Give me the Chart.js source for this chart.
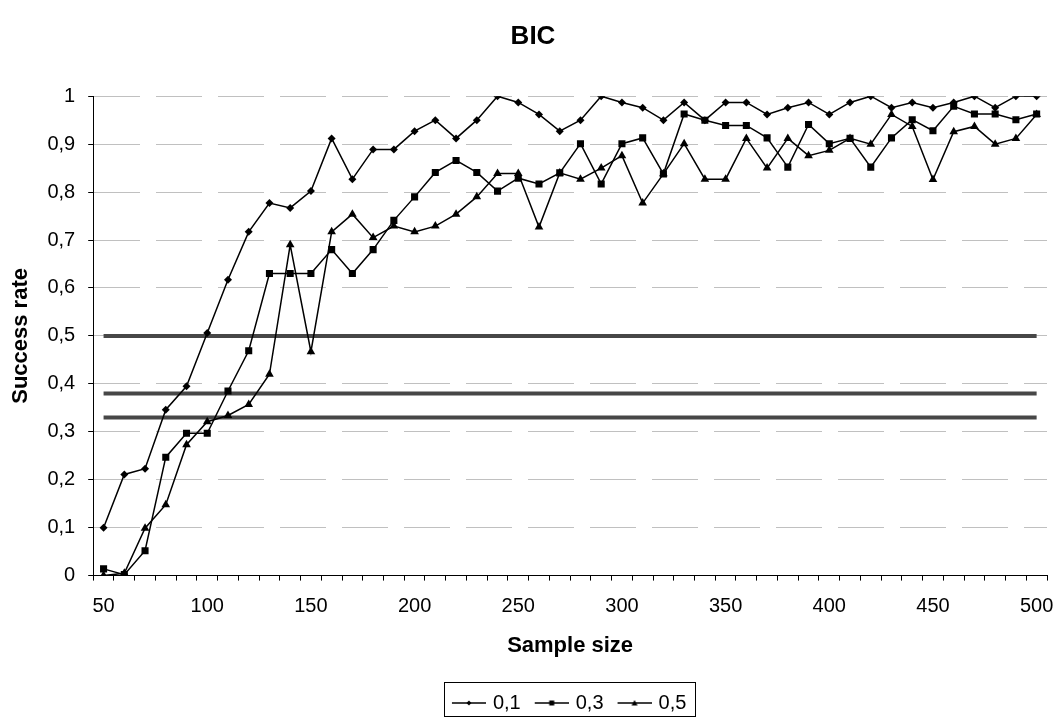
<!DOCTYPE html>
<html>
<head>
<meta charset="utf-8">
<title>BIC</title>
<script src="https://cdn.jsdelivr.net/npm/chart.js@4.4.0/dist/chart.umd.min.js"></script>
<style>
  html, body { margin: 0; padding: 0; background: #fff; }
  canvas { display: block; }
</style>
</head>
<body>
<canvas id="bicChart" width="1058" height="717"></canvas>
<script>
// Sample sizes (categories)
const sampleSizes = [50, 60, 70, 80, 90, 100, 110, 120, 130, 140, 150, 160, 170, 180, 190, 200,
  210, 220, 230, 240, 250, 260, 270, 280, 290, 300, 310, 320, 330, 340, 350, 360, 370, 380,
  390, 400, 410, 420, 430, 440, 450, 460, 470, 480, 490, 500];

// Success rate per series
const rate01 = [0.100, 0.211, 0.223, 0.346, 0.395, 0.506, 0.617, 0.717, 0.777, 0.767, 0.802, 0.912,
  0.827, 0.889, 0.889, 0.927, 0.950, 0.912, 0.950, 1.000, 0.987, 0.962, 0.927, 0.950, 1.000, 0.987,
  0.976, 0.950, 0.987, 0.950, 0.987, 0.987, 0.962, 0.976, 0.987, 0.962, 0.987, 1.000, 0.976, 0.987,
  0.976, 0.987, 1.000, 0.976, 1.000, 1.000];
const rate03 = [0.014, 0.002, 0.052, 0.247, 0.297, 0.297, 0.385, 0.469, 0.630, 0.630, 0.630, 0.680,
  0.630, 0.680, 0.741, 0.790, 0.841, 0.866, 0.841, 0.802, 0.829, 0.817, 0.840, 0.901, 0.817, 0.901,
  0.913, 0.838, 0.963, 0.950, 0.939, 0.939, 0.913, 0.852, 0.941, 0.901, 0.912, 0.852, 0.913, 0.951,
  0.928, 0.979, 0.963, 0.963, 0.951, 0.963];
const rate05 = [0.000, 0.005, 0.099, 0.148, 0.273, 0.321, 0.334, 0.357, 0.420, 0.690, 0.467, 0.717,
  0.754, 0.705, 0.729, 0.717, 0.729, 0.754, 0.790, 0.839, 0.839, 0.727, 0.840, 0.827, 0.850, 0.876,
  0.777, 0.838, 0.901, 0.827, 0.827, 0.912, 0.850, 0.912, 0.876, 0.887, 0.912, 0.900, 0.962, 0.937,
  0.826, 0.926, 0.937, 0.900, 0.912, 0.962];

// Horizontal reference levels
const refLevels = [0.5, 0.38, 0.33];

const seriesNames = ['0,1', '0,3', '0,5'];
const FONT = "'Liberation Sans', Arial, sans-serif";

// little "line + marker" sample for the legend (17px blank on the left = gap between items)
function legendSample(shape) {
  const c = document.createElement('canvas');
  c.width = 51; c.height = 14;
  const g = c.getContext('2d');
  g.strokeStyle = '#000'; g.fillStyle = '#000'; g.lineWidth = 1.5;
  g.beginPath(); g.moveTo(17, 7); g.lineTo(51, 7); g.stroke();
  g.beginPath();
  if (shape === 'diamond') {
    g.moveTo(34, 4.5); g.lineTo(36.5, 7); g.lineTo(34, 9.5); g.lineTo(31.5, 7);
  } else if (shape === 'square') {
    g.rect(31.5, 4.5, 5, 5);
  } else {
    g.moveTo(34, 4); g.lineTo(37, 9.5); g.lineTo(31, 9.5);
  }
  g.closePath(); g.fill();
  return c;
}

const legendImgs = [legendSample('diamond'), legendSample('square'), legendSample('triangle')];

function seriesSet(label, data, style, radius) {
  return {
    label: label,
    data: data,
    borderColor: '#000',
    backgroundColor: '#000',
    borderWidth: 1.5,
    pointStyle: style,
    pointRadius: radius,
    pointBorderWidth: 0,
    pointHoverRadius: radius,
    tension: 0
  };
}

const datasets = [
  seriesSet(seriesNames[0], rate01, 'rectRot', 4),
  seriesSet(seriesNames[1], rate03, 'rect', 5),
  seriesSet(seriesNames[2], rate05, 'triangle', 5)
];
refLevels.forEach(level => {
  datasets.push({
    label: 'ref ' + level,
    data: sampleSizes.map(() => level),
    borderColor: '#474747',
    borderWidth: 4,
    pointRadius: 0,
    pointHoverRadius: 0
  });
});

// border around the legend, like the original; legend nudged left a bit
const legendFrame = {
  id: 'legendFrame',
  afterLayout(chart) {
    chart.legend.left -= 8;
    chart.legend.right -= 8;
  },
  afterDraw(chart) {
    const boxes = chart.legend.legendHitBoxes;
    if (!boxes || !boxes.length) return;
    const left = Math.min(...boxes.map(b => b.left)) + 14 - 8;
    const right = Math.max(...boxes.map(b => b.left + b.width)) + 9;
    const bottom = chart.height - 1;
    const top = bottom - 34;
    const ctx = chart.ctx;
    ctx.save();
    ctx.strokeStyle = '#000';
    ctx.lineWidth = 1;
    ctx.strokeRect(Math.round(left) + 0.5, Math.round(top) + 0.5, Math.round(right - left), Math.round(bottom - top));
    ctx.restore();
  }
};

new Chart(document.getElementById('bicChart'), {
  type: 'line',
  data: { labels: sampleSizes, datasets: datasets },
  plugins: [legendFrame],
  options: {
    responsive: false,
    animation: false,
    layout: { padding: { left: 8, right: 0, top: 0, bottom: -6 } },
    plugins: {
      title: {
        display: true,
        text: 'BIC',
        color: '#000',
        font: { family: FONT, size: 26, weight: 'bold' },
        padding: { top: 21, bottom: 44 }
      },
      legend: {
        position: 'bottom',
        fullSize: false,
        labels: {
          color: '#000',
          font: { family: FONT, size: 20 },
          usePointStyle: true,
          pointStyleWidth: 45,
          boxHeight: 14,
          padding: 0,
          generateLabels: chart => seriesNames.map((name, i) => ({
            text: name,
            datasetIndex: i,
            pointStyle: legendImgs[i],
            fillStyle: '#000',
            strokeStyle: '#000',
            lineWidth: 0,
            fontColor: '#000'
          }))
        }
      },
      tooltip: { enabled: false }
    },
    scales: {
      x: {
        type: 'category',
        offset: true,
        afterFit: scale => { scale.paddingRight = 11; },
        grid: {
          offset: true,
          drawOnChartArea: false,
          drawTicks: true,
          tickLength: 5,
          color: '#000',
          tickColor: '#000'
        },
        border: { color: '#000', width: 1 },
        ticks: {
          autoSkip: false,
          maxRotation: 0,
          color: '#000',
          padding: 14,
          font: { family: FONT, size: 20 },
          callback: (val, idx) => (idx % 5 === 0 ? String(sampleSizes[idx]) : '')
        },
        title: {
          display: true,
          text: 'Sample size',
          color: '#000',
          font: { family: FONT, size: 22, weight: 'bold' },
          padding: { top: 0, bottom: 34 }
        }
      },
      y: {
        min: 0,
        max: 1,
        grid: {
          color: '#c0c0c0',
          tickColor: '#000',
          tickLength: 5,
          lineWidth: 1,
          tickBorderDash: []
        },
        border: { color: '#000', width: 1, dash: [46, 16] },
        ticks: {
          stepSize: 0.1,
          color: '#000',
          padding: 13,
          font: { family: FONT, size: 20 },
          callback: v => String(Number(v.toFixed(1))).replace('.', ',')
        },
        title: {
          display: true,
          text: 'Success rate',
          color: '#000',
          font: { family: FONT, size: 22, weight: 'bold' },
          padding: { top: 0, bottom: 0 }
        }
      }
    }
  }
});
</script>
</body>
</html>
